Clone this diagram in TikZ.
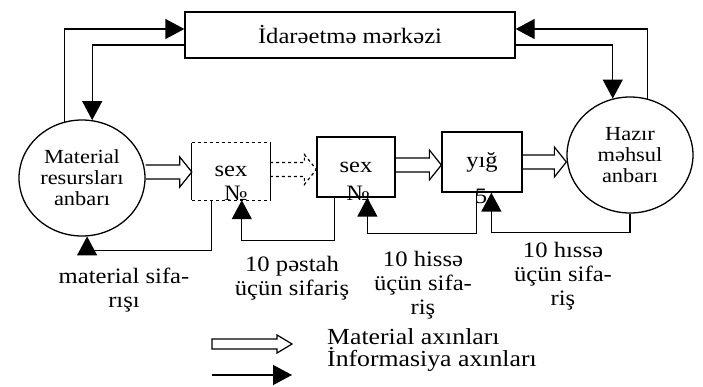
\documentclass[tikz,border=0pt]{standalone}
\usepackage{fontspec}
\setmainfont[FakeStretch=1.12]{Liberation Serif}
\usetikzlibrary{arrows.meta,calc,shapes.geometric}
\begin{document}
\begin{tikzpicture}[x=1pt,y=-1pt,
  font=\fontsize{22}{24}\selectfont,
  every node/.style={inner sep=0pt},
  stock/.style={draw,ellipse,line width=1.3pt,minimum width=126pt,minimum height=116pt,align=center,font=\fontsize{20}{21}\selectfont},
  shop/.style={draw,line width=1.3pt,minimum width=78pt,minimum height=60pt},
  info/.style={line width=1.3pt,-{Triangle[length=19pt,width=20pt]}},
  matflow/.style={line width=1.2pt, to path={let \p1=(\tikztostart),\p2=(\tikztotarget) in
     (\x1,\y1+7pt) -- (\x2-12pt,\y1+7pt) -- (\x2-12pt,\y1+15pt) -- (\x2,\y1)
     -- (\x2-12pt,\y1-15pt) -- (\x2-12pt,\y1-7pt) -- (\x1,\y1-7pt)}},
  matflowc/.style={line width=1.2pt, to path={let \p1=(\tikztostart),\p2=(\tikztotarget) in
     (\x1,\y1+5pt) -- (\x2-15pt,\y1+5pt) -- (\x2-15pt,\y1+9pt) -- (\x2,\y1)
     -- (\x2-15pt,\y1-9pt) -- (\x2-15pt,\y1-5pt) -- (\x1,\y1-5pt) -- cycle}},
  lbl/.style={align=center,font=\fontsize{22}{24}\selectfont}
]
\useasboundingbox (0,0) rectangle (703,387);

% main nodes
\node[draw,line width=1.3pt,minimum width=330pt,minimum height=46pt] (top) at (350,35) {İdarəetmə mərkəzi};
\node[stock] (c1) at (82,178) {Material\\resursları\\anbarı};
\node[stock] (c2) at (630,155) {Hazır\\məhsul\\anbarı};
\node[minimum width=78pt,minimum height=57pt] (b1) at (231,171.5) {sex};
\node[shop] (b2) at (356,167) {sex};
\node[shop,minimum width=80pt] (b3) at (482,162) {yığ};

% box 1 edges (faded dashed top and bottom)
\draw[line width=1.3pt] (b1.north west) -- (b1.south west);
\draw[line width=1.3pt] (b1.north east) -- (b1.south east);
\draw[line width=1.3pt,dashed] (b1.north west) -- (b1.north east);
\draw[line width=1.3pt,dashed] (b1.south west) -- (b1.south east);

% number marks
\node (n1) at (236,193) {№};
\node (n2) at (358,193) {№};
\node (n3) at (481,196) {5};

% information flows with the control centre
\draw[info] (c1.107) |- ([yshift=6pt]top.west);
\draw[info] ([yshift=-10pt]top.west) -| (c1.80);
\draw[info] ([yshift=-10pt]top.east) -| (c2.107);
\draw[info] (c2.73) |- ([yshift=6pt]top.east);

% order flows
\draw[info] ([xshift=18pt]b2.south west) -- ++(0,43) -| ([xshift=50pt]b1.south west);
\draw[info] ([xshift=35pt]b3.south west) -- ++(0,41) -| ([xshift=51pt]b2.south west);
\draw[info] (c2.south) -- ++(0,19) -| ([xshift=50pt]b3.south west);
\draw[info] ([xshift=20pt]b1.south west) -- ++(0,50) -| (c1.275);

% material flows
\draw[matflow] ([yshift=6pt]c1.east) to (b1.west);
\draw[matflow,dashed] ([yshift=2pt]b1.east) to (b2.west);
\draw[matflow] ([yshift=2pt]b2.east) to (b3.west);
\draw[matflow] (b3.east) to (c2.west);

% labels
\node[lbl] (q1) at (124,290) {material sifa-\\rışı};
\node[lbl] (q2) at (292,278) {10 pəstah\\üçün sifariş};
\node[lbl] (q3) at (423,285) {10 hissə\\üçün sifa-\\riş};
\node[lbl] (q4) at (563,276) {10 hıssə\\üçün sifa-\\riş};

% legend
\coordinate (l1s) at (212,344);
\coordinate (l1e) at (292,344);
\draw[matflowc] (l1s) to (l1e);
\coordinate (l2s) at (212,375);
\coordinate (l2e) at (292,375);
\draw[info] (l2s) -- (l2e);
\node[anchor=west,font=\fontsize{23}{24}\selectfont] (t1) at (327,337) {Material axınları};
\node[anchor=west,font=\fontsize{23}{24}\selectfont] (t2) at (327,359) {İnformasiya axınları};
\end{tikzpicture}
\end{document}
